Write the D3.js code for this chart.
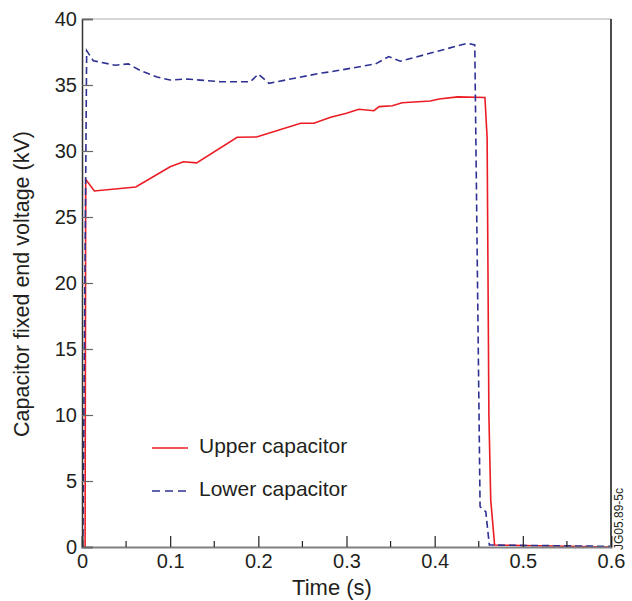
<!DOCTYPE html>
<html>
<head>
<meta charset="utf-8">
<script src="https://cdn.jsdelivr.net/npm/d3@7"></script>
<style>
  body { margin: 0; background: #fff; }
  text { font-family: "Liberation Sans", Arial, sans-serif; fill: #231f20; }
</style>
</head>
<body>
<div id="chart"></div>
<script>
// values
const upperT = [0.0035, 0.0042, 0.014, 0.061, 0.1, 0.115, 0.13, 0.176, 0.198, 0.248, 0.263, 0.282, 0.3, 0.314, 0.331, 0.337, 0.352, 0.363, 0.395, 0.405, 0.426, 0.457, 0.4595, 0.4615, 0.4636, 0.468, 0.6]
const upperV = [0, 27.85, 26.97, 27.27, 28.8, 29.19, 29.1, 31.04, 31.06, 32.1, 32.1, 32.55, 32.86, 33.16, 33.05, 33.36, 33.43, 33.66, 33.79, 33.94, 34.1, 34.05, 31, 10, 3.56, 0.15, 0]

const lowerT = [0.001, 0.0053, 0.0128, 0.0375, 0.0526, 0.066, 0.085, 0.1, 0.119, 0.157, 0.191, 0.2, 0.212, 0.27, 0.282, 0.333, 0.348, 0.361, 0.437, 0.4455, 0.4515, 0.458, 0.462, 0.6]
const lowerV = [0, 37.6, 36.84, 36.5, 36.6, 36.1, 35.6, 35.38, 35.45, 35.25, 35.25, 35.83, 35.13, 35.89, 36.0, 36.6, 37.15, 36.8, 38.16, 38.03, 3.05, 2.67, 0.15, 0.05]

const xTicks = [0, 0.1, 0.2, 0.3, 0.4, 0.5, 0.6]
const xMinorTicks = [0.05, 0.15, 0.25, 0.35, 0.45, 0.55]
const yTicks = [0, 5, 10, 15, 20, 25, 30, 35, 40]

const series = [
  { name: 'Upper capacitor', t: upperT, v: upperV, color: '#ec1c24', dash: null },
  { name: 'Lower capacitor', t: lowerT, v: lowerV, color: '#2e3192', dash: '7,4' }
]

const width = 632, height = 601
const margin = { top: 19, right: 21, bottom: 54, left: 82 }
const innerW = width - margin.left - margin.right
const innerH = height - margin.top - margin.bottom

const svg = d3.select('#chart').append('svg')
  .attr('width', width)
  .attr('height', height)

const g = svg.append('g')
  .attr('transform', `translate(${margin.left},${margin.top})`)

const x = d3.scaleLinear().domain([0, 0.6]).range([0, innerW])
const y = d3.scaleLinear().domain([0, 40]).range([innerH, 0])

// frame: top light grey, right black
g.append('line').attr('x1', 0).attr('x2', innerW).attr('y1', 0).attr('y2', 0)
  .attr('stroke', '#c8c8c8').attr('stroke-width', 1.5)
g.append('line').attr('x1', innerW).attr('x2', innerW).attr('y1', 0).attr('y2', innerH)
  .attr('stroke', '#111').attr('stroke-width', 1.5)

// lines
const line = d3.line().x(d => x(d[0])).y(d => y(d[1]))
series.forEach(s => {
  g.append('path')
    .datum(d3.zip(s.t, s.v))
    .attr('d', line)
    .attr('fill', 'none')
    .attr('stroke', s.color)
    .attr('stroke-width', 1.6)
    .attr('stroke-dasharray', s.dash)
})

// axes with inward ticks
const xAxis = g.append('g')
  .attr('transform', `translate(0,${innerH})`)
  .call(d3.axisBottom(x).tickValues(xTicks).tickFormat(d3.format('')).tickSize(-11).tickPadding(7))
xAxis.select('.domain').attr('stroke', '#808080').attr('stroke-width', 2.2)
xAxis.selectAll('.tick line').attr('stroke', '#231f20').attr('stroke-width', 1.2)
xAxis.selectAll('.tick text').attr('font-size', 20).attr('fill', '#231f20')

g.append('g')
  .selectAll('line')
  .data(xMinorTicks)
  .enter()
  .append('line')
  .attr('x1', d => x(d)).attr('x2', d => x(d))
  .attr('y1', innerH).attr('y2', innerH - 6)
  .attr('stroke', '#231f20').attr('stroke-width', 1.2)

const yAxis = g.append('g')
  .call(d3.axisLeft(y).tickValues(yTicks).tickSize(-11).tickPadding(5))
yAxis.select('.domain').attr('stroke', '#333').attr('stroke-width', 1.5)
yAxis.selectAll('.tick line').attr('stroke', '#666').attr('stroke-width', 1.2)
yAxis.selectAll('.tick text').attr('font-size', 20).attr('fill', '#231f20')

// axis titles
svg.append('text')
  .attr('x', 332)
  .attr('y', 595)
  .attr('text-anchor', 'middle')
  .attr('font-size', 22)
  .text('Time (s)')

svg.append('text')
  .attr('transform', `translate(29,284) rotate(-90)`)
  .attr('text-anchor', 'middle')
  .attr('font-size', 21.5)
  .text('Capacitor fixed end voltage (kV)')

// legend
const legend = svg.append('g')
series.forEach((s, i) => {
  const ly = 448 + i * 43
  legend.append('line')
    .attr('x1', 152).attr('x2', 188).attr('y1', ly).attr('y2', ly)
    .attr('stroke', s.color).attr('stroke-width', 1.6)
    .attr('stroke-dasharray', s.dash ? '8,5' : null)
  legend.append('text')
    .attr('x', 199).attr('y', ly + 4.5)
    .attr('font-size', 21)
    .text(s.name)
})

// figure id
svg.append('text')
  .attr('transform', 'translate(623,550) rotate(-90)')
  .attr('font-size', 12)
  .text('JG05.89-5c')
</script>
</body>
</html>
